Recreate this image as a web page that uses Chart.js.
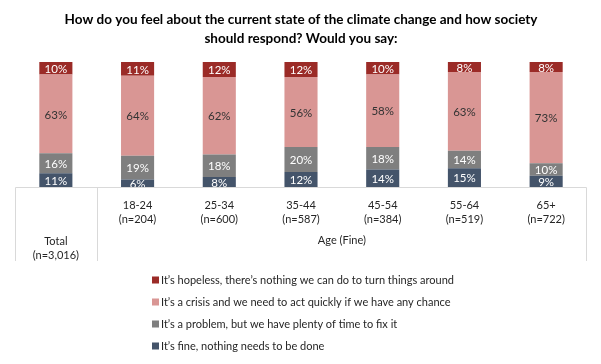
<!DOCTYPE html>
<html>
<head>
<meta charset="utf-8">
<script src="https://cdn.jsdelivr.net/npm/chart.js@4/dist/chart.umd.min.js"></script>
<style>
  html, body { margin: 0; padding: 0; background: #fff; }
  #wrap { width: 601px; height: 364px; position: relative; }
</style>
</head>
<body>
<div id="wrap"><canvas id="chart" width="601" height="364"></canvas></div>
<script>
const titleLines = ['How do you feel about the current state of the climate change and how society', 'should respond? Would you say:'];
const groups = ['Total', '18-24', '25-34', '35-44', '45-54', '55-64', '65+'];
const sampleSizes = ['(n=3,016)', '(n=204)', '(n=600)', '(n=587)', '(n=384)', '(n=519)', '(n=722)'];
const groupHeader = 'Age (Fine)';

const fineValues     = [11, 6, 8, 12, 14, 15, 9];
const problemValues  = [16, 19, 18, 20, 18, 14, 10];
const crisisValues   = [63, 64, 62, 56, 58, 63, 73];
const hopelessValues = [10, 11, 12, 12, 10, 8, 8];

const seriesNames = [
    'It\u2019s fine, nothing needs to be done',
    'It\u2019s a problem, but we have plenty of time to fix it',
    'It\u2019s a crisis and we need to act quickly if we have any chance',
    'It\u2019s hopeless, there\u2019s nothing we can do to turn things around'
];
const seriesColors = ['#44546A', '#7F7F7F', '#D99694', '#9B2B27'];
const labelColors = ['#ffffff', '#ffffff', '#333333', '#ffffff'];

const FONT = "Lato, 'Open Sans', sans-serif";

const segmentLabels = {
    id: 'segmentLabels',
    afterDatasetsDraw(chart) {
        const ctx = chart.ctx;
        ctx.save();
        ctx.font = '11.5px ' + FONT;
        ctx.textAlign = 'center';
        ctx.textBaseline = 'middle';
        chart.data.datasets.forEach((ds, i) => {
            const meta = chart.getDatasetMeta(i);
            meta.data.forEach((bar, j) => {
                const mid = (bar.y + bar.base) / 2;
                ctx.fillStyle = labelColors[i];
                ctx.fillText(ds.data[j] + '%', bar.x, mid + 1);
            });
        });
        ctx.restore();
    }
};

const frame = {
    id: 'frame',
    afterDraw(chart) {
        const ctx = chart.ctx;
        const area = chart.chartArea;
        const x = chart.scales.x;
        const step = x.getPixelForValue(1) - x.getPixelForValue(0);
        ctx.save();

        // title
        ctx.fillStyle = '#000';
        ctx.font = 'bold 13.5px ' + FONT;
        ctx.textAlign = 'center';
        ctx.textBaseline = 'middle';
        ctx.fillText(titleLines[0], 301, 20);
        ctx.fillText(titleLines[1], 301, 39);

        // category table
        const top = area.bottom + 0.5;
        const bottom = 261;
        const divider = x.getPixelForValue(0) + step / 2;
        ctx.strokeStyle = '#D9D9D9';
        ctx.lineWidth = 1;
        ctx.beginPath();
        ctx.moveTo(area.left + 0.5, bottom);
        ctx.lineTo(area.left + 0.5, top);
        ctx.lineTo(area.right - 0.5, top);
        ctx.lineTo(area.right - 0.5, bottom);
        ctx.moveTo(Math.round(divider) + 0.5, top);
        ctx.lineTo(Math.round(divider) + 0.5, bottom);
        ctx.stroke();

        ctx.fillStyle = '#262626';
        ctx.font = '11px ' + FONT;
        groups.forEach((g, i) => {
            const cx = x.getPixelForValue(i);
            if (i === 0) {
                ctx.fillText(g, cx, 241);
                ctx.fillText(sampleSizes[i], cx, 255);
            } else {
                ctx.fillText(g, cx, 205);
                ctx.fillText(sampleSizes[i], cx, 219);
            }
        });
        ctx.fillText(groupHeader, (divider + area.right) / 2, 240);

        // legend, top series first
        ctx.textAlign = 'left';
        for (let k = 0; k < seriesNames.length; k++) {
            const i = seriesNames.length - 1 - k;
            const y = 280 + k * 22;
            ctx.fillStyle = seriesColors[i];
            ctx.fillRect(152, y - 3.5, 7, 7);
            ctx.fillStyle = '#262626';
            ctx.fillText(seriesNames[i], 161, y);
        }
        ctx.restore();
    }
};

const datasets = [fineValues, problemValues, crisisValues, hopelessValues].map((vals, i) => ({
    label: seriesNames[i],
    data: vals,
    backgroundColor: seriesColors[i],
    borderWidth: 0
}));

new Chart(document.getElementById('chart'), {
    type: 'bar',
    data: { labels: groups, datasets: datasets },
    options: {
        responsive: false,
        animation: false,
        layout: { padding: { left: 15, right: 14, top: 62, bottom: 177 } },
        plugins: {
            legend: { display: false },
            title: { display: false },
            tooltip: { enabled: false }
        },
        scales: {
            x: { stacked: true, display: false, offset: true, grid: { display: false } },
            y: { stacked: true, display: false, min: 0, max: 100 }
        },
        datasets: { bar: { categoryPercentage: 1, barPercentage: 0.405 } }
    },
    plugins: [segmentLabels, frame]
});
</script>
</body>
</html>
